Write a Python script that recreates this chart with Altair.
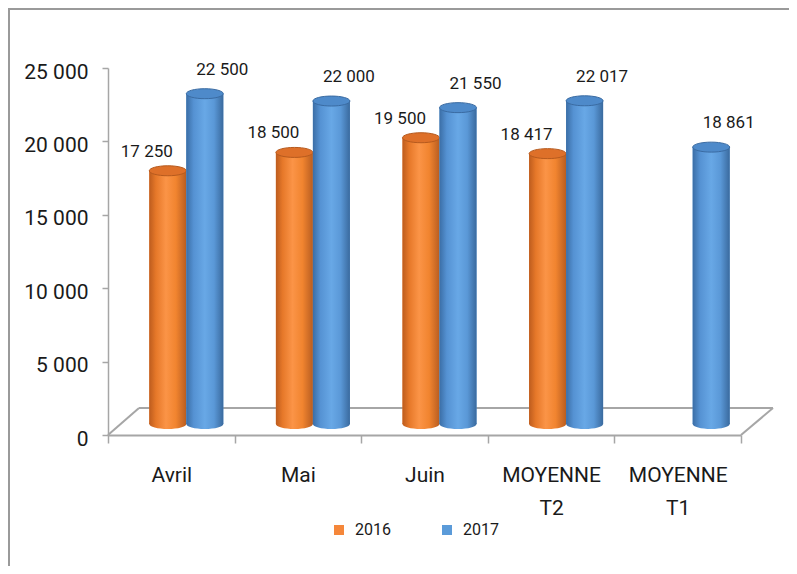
import altair as alt
import pandas as pd

categories = ["Avril", "Mai", "Juin", "MOYENNE T2", "MOYENNE T1"]
years = ["2016", "2017"]
values_2016 = [17250, 18500, 19500, 18417, None]
values_2017 = [22500, 22000, 21550, 22017, 18861]
y_ticks = [0, 5000, 10000, 15000, 20000, 25000]

rows = []
for i, c in enumerate(categories):
    for yr, vals in zip(years, [values_2016, values_2017]):
        if vals[i] is not None:
            rows.append({"cat": c, "year": yr, "value": vals[i]})
df = pd.DataFrame(rows)

W, H = 633, 367
FONT = "Roboto"
TXT = "#1a1a1a"
GRAY = "#a6a6a6"
BAR_W = 37
Y_SHIFT = -11

flat = {"2016": "#F5873A", "2017": "#5B9BD9"}
grad = {
    "2016": alt.Gradient(gradient="linear", x1=0, x2=1, y1=0, y2=0, stops=[
        alt.GradientStop(offset=0, color="#BD5C1E"),
        alt.GradientStop(offset=0.18, color="#E67829"),
        alt.GradientStop(offset=0.45, color="#FB9447"),
        alt.GradientStop(offset=0.72, color="#F1842F"),
        alt.GradientStop(offset=1, color="#B85D21")]),
    "2017": alt.Gradient(gradient="linear", x1=0, x2=1, y1=0, y2=0, stops=[
        alt.GradientStop(offset=0, color="#3B6EA6"),
        alt.GradientStop(offset=0.2, color="#5592D3"),
        alt.GradientStop(offset=0.5, color="#68A8E6"),
        alt.GradientStop(offset=0.75, color="#5A98D7"),
        alt.GradientStop(offset=1, color="#3A6A9E")]),
}
top_fill = {"2016": "#DE7029", "2017": "#4E8ACA"}
top_stroke = {"2016": "#B65A1E", "2017": "#3A6BA2"}
x_off = {"2016": -3.5, "2017": 33.5}
lab_dx = {"2016": -24.5, "2017": 51}
lab_dy = {"2016": -30, "2017": -35}

ELLIPSE = "M-1,0A1,0.27,0,1,1,1,0A1,0.27,0,1,1,-1,0Z"

x_enc = alt.X("cat:N", sort=categories,
              scale=alt.Scale(domain=categories, paddingInner=0, paddingOuter=0),
              axis=alt.Axis(title=None, tickBand="extent", domainColor=GRAY, domainWidth=2,
                            tickColor=GRAY, tickWidth=1.5, tickSize=8, labelAngle=0,
                            labelFont=FONT, labelFontSize=21, labelColor=TXT,
                            labelExpr="split(datum.label, ' ')", labelLineHeight=33,
                            labelPadding=21))
y_enc = alt.Y("value:Q", scale=alt.Scale(domain=[0, 25000], nice=False, zero=True),
              axis=alt.Axis(title=None, values=y_ticks, grid=False, domainColor=GRAY,
                            domainWidth=1.5, tickColor=GRAY, tickWidth=1.5, tickSize=6,
                            labelFont=FONT, labelFontSize=21, labelColor=TXT, labelPadding=14,
                            labelOffset=4,
                            labelExpr="replace(format(datum.value, ','), ',', ' ')"))

one = pd.DataFrame({"k": [0]})
# chart frame and 3D floor (decoration)
frame_top = alt.Chart(one).mark_rule(color="#9a9a9a", strokeWidth=2).encode(
    x=alt.value(-100), x2=alt.value(W + 48), y=alt.value(-59))
frame_left = alt.Chart(one).mark_rule(color="#9a9a9a", strokeWidth=2).encode(
    x=alt.value(-99), y=alt.value(-60), y2=alt.value(H + 131))
floor_back = alt.Chart(one).mark_rule(color=GRAY, strokeWidth=2).encode(
    x=alt.value(31), x2=alt.value(665), y=alt.value(H - 27))
floor_left = alt.Chart(one).mark_rule(color=GRAY, strokeWidth=2).encode(
    x=alt.value(0), x2=alt.value(31), y=alt.value(H), y2=alt.value(H - 27))
floor_right = alt.Chart(one).mark_rule(color=GRAY, strokeWidth=2).encode(
    x=alt.value(W), x2=alt.value(665), y=alt.value(H), y2=alt.value(H - 27))

layers = [frame_top, frame_left, floor_back, floor_left, floor_right]

base = alt.Chart(df)
color_scale = alt.Scale(domain=years, range=[flat[y] for y in years])
for yr in years:
    sub = base.transform_filter(alt.datum.year == yr)
    legend_bar = sub.mark_bar(width=BAR_W, xOffset=x_off[yr], yOffset=Y_SHIFT).encode(
        x=x_enc, y=y_enc,
        color=alt.Color("year:N", scale=color_scale, title=None,
                        legend=alt.Legend(orient="none", legendX=223, legendY=454,
                                          direction="horizontal", symbolType="square",
                                          symbolSize=100, symbolStrokeWidth=0,
                                          labelFont=FONT, labelFontSize=16, labelColor=TXT,
                                          labelOffset=8, columnPadding=48, padding=0)))
    bottom = sub.mark_point(shape=ELLIPSE, filled=True, size=BAR_W ** 2, opacity=1,
                            color=grad[yr], strokeWidth=0, xOffset=x_off[yr],
                            yOffset=Y_SHIFT).encode(x=x_enc, y=alt.datum(0))
    bar = sub.mark_bar(width=BAR_W, xOffset=x_off[yr], yOffset=Y_SHIFT,
                       color=grad[yr]).encode(x=x_enc, y=y_enc)
    top = sub.mark_point(shape=ELLIPSE, filled=True, size=BAR_W ** 2, opacity=1,
                         fill=top_fill[yr], stroke=top_stroke[yr], strokeWidth=1,
                         xOffset=x_off[yr], yOffset=Y_SHIFT).encode(x=x_enc, y=y_enc)
    label = sub.transform_calculate(
        lbl="replace(format(datum.value, ','), ',', ' ')"
    ).mark_text(font=FONT, fontSize=17, color=TXT, dx=lab_dx[yr], dy=lab_dy[yr],
                align="center", baseline="middle").encode(x=x_enc, y=y_enc, text="lbl:N")
    layers += [legend_bar, bottom, bar, top, label]

chart = alt.layer(*layers).properties(
    width=W, height=H,
    padding={"left": 100, "top": 60, "right": 48, "bottom": 131},
    autosize=alt.AutoSizeParams(type="none"),
    background="white",
).configure_view(strokeWidth=0)

chart.save("out.html", embed_options={"renderer": "svg", "actions": False})
